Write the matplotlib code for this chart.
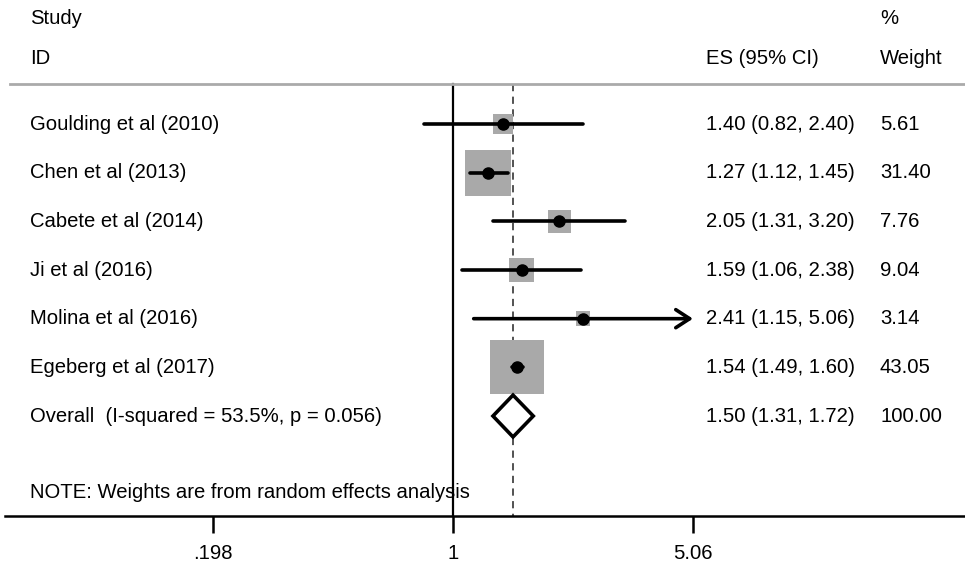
import numpy as np
import matplotlib
matplotlib.use("Agg")
import matplotlib.pyplot as plt
from matplotlib.transforms import blended_transform_factory
from matplotlib.patches import Polygon

plt.rcParams['font.family'] = ['Liberation Sans', 'DejaVu Sans']

studies = ["Goulding et al (2010)", "Chen et al (2013)", "Cabete et al (2014)",
           "Ji et al (2016)", "Molina et al (2016)", "Egeberg et al (2017)"]
es = [1.40, 1.27, 2.05, 1.59, 2.41, 1.54]
lo = [0.82, 1.12, 1.31, 1.06, 1.15, 1.49]
hi = [2.40, 1.45, 3.20, 2.38, 5.06, 1.60]
weights = [5.61, 31.40, 7.76, 9.04, 3.14, 43.05]
overall_label = "Overall  (I-squared = 53.5%, p = 0.056)"
overall = (1.50, 1.31, 1.72)
overall_weight = "100.00"
xticks = [0.198, 1, 5.06]
xtick_labels = [".198", "1", "5.06"]
clip_hi = 5.06

W, H = 965, 566
fig = plt.figure(figsize=(W / 100, H / 100), dpi=100)
ax_left, ax_bottom = 5, 516
ax = fig.add_axes([ax_left / W, (H - ax_bottom) / H, (W - ax_left) / W, ax_bottom / H])

# log scale: x=1 at pixel 453, 148 px per ln unit
px_one, px_per = 453, 148.0
ax.set_xscale('log')
ax.set_xlim(np.exp(-(px_one - ax_left) / px_per), np.exp((W - px_one) / px_per))
# rows: row 0 at pixel 124, spacing 48.67 px
y0, dy = 124, 48.67
ax.set_ylim((ax_bottom - y0) / dy, -y0 / dy)

n = len(studies)
rows = np.arange(n)
orow = n
top_line = (84 - y0) / dy
bottom = (ax_bottom - y0) / dy

# reference lines
ax.plot([1, 1], [top_line, bottom], color='black', lw=1.6, zorder=1)
ax.plot([overall[0]] * 2, [top_line, bottom], color='#444444', lw=1.3,
        ls=(0, (4, 3)), zorder=1)

# weight boxes
ax.scatter(es, rows, s=[35.1 * w for w in weights], marker='s',
           color='#a9a9a9', edgecolors='none', zorder=2)

# CI lines
for i in range(n):
    if hi[i] >= clip_hi:
        ax.annotate('', xy=(clip_hi, rows[i]), xytext=(lo[i], rows[i]),
                    arrowprops=dict(arrowstyle='->, head_length=1.0, head_width=0.65',
                                    lw=2.6, color='black', shrinkA=0, shrinkB=0),
                    zorder=3)
    else:
        ax.plot([lo[i], hi[i]], [rows[i], rows[i]], color='black', lw=2.6,
                solid_capstyle='round', zorder=3)
ax.plot(es, rows, 'o', color='black', ms=8, zorder=4)

# overall diamond
hd = 0.43
diamond = Polygon([(overall[1], orow), (overall[0], orow - hd),
                   (overall[2], orow), (overall[0], orow + hd)],
                  closed=True, facecolor='white', edgecolor='black', lw=2.6,
                  joinstyle='miter', zorder=4)
ax.add_patch(diamond)

# text columns (x in figure pixels, y in rows)
tr = blended_transform_factory(fig.transFigure, ax.transData)
fs = 14.6
def put(px, row, s, **kw):
    ax.text(px / W, row, s, transform=tr, fontsize=fs, va='center', ha='left', **kw)

put(30, (18 - y0) / dy, "Study")
put(30, (58 - y0) / dy, "ID")
put(706, (58 - y0) / dy, "ES (95% CI)")
put(880, (18 - y0) / dy, "%")
put(880, (58 - y0) / dy, "Weight")

for i in range(n):
    put(30, rows[i], studies[i])
    put(706, rows[i], f"{es[i]:.2f} ({lo[i]:.2f}, {hi[i]:.2f})")
    put(880, rows[i], f"{weights[i]:.2f}")
put(30, orow, overall_label)
put(706, orow, f"{overall[0]:.2f} ({overall[1]:.2f}, {overall[2]:.2f})")
put(880, orow, overall_weight)
put(30, (492 - y0) / dy, "NOTE: Weights are from random effects analysis")

# header rule
ax.plot([10 / W, 1], [top_line, top_line], transform=tr, color='#aaaaaa', lw=2,
        clip_on=False)

# axes styling
for s in ['top', 'right', 'left']:
    ax.spines[s].set_visible(False)
ax.spines['bottom'].set_linewidth(1.8)
ax.set_yticks([])
ax.set_xticks(xticks)
ax.set_xticklabels(xtick_labels, fontsize=fs)
ax.xaxis.set_minor_locator(matplotlib.ticker.NullLocator())
ax.tick_params(axis='x', length=12, width=1.8, pad=8)

fig.savefig("out.png", dpi=100)
